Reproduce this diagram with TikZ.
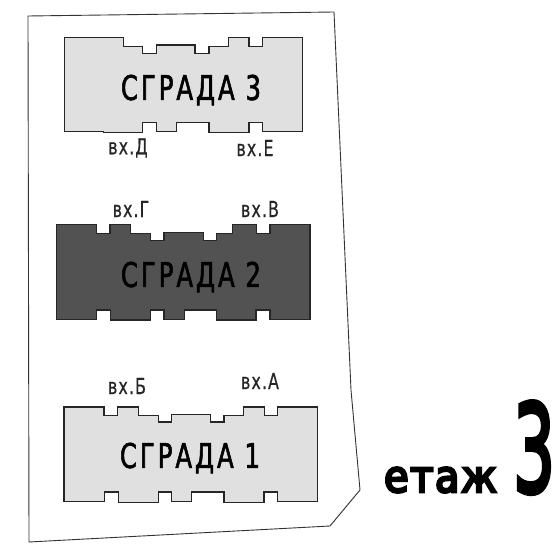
\documentclass[tikz,border=0pt]{standalone}
\usepackage{fontspec}
\setmainfont{DejaVu Sans}
\newfontfamily\bigf[FakeStretch=0.72,LetterSpace=8.5,FakeBold=1.6]{DejaVu Sans}
\newfontfamily\smallf[FakeStretch=0.72,LetterSpace=5,FakeBold=0.5]{DejaVu Sans}
\newfontfamily\etf[FakeStretch=0.9,LetterSpace=4,FakeBold=6]{DejaVu Sans}
\newfontfamily\numf[FakeBold=4]{DejaVu Sans}
\tikzset{
 bld/.style={draw=black!85,line width=1.2pt,line join=miter},
 light/.style={bld,fill=black!12},
 dark/.style={bld,fill=black!68},
 title/.style={inner sep=0pt,font=\bigf\fontsize{34}{34}\selectfont},
 entr/.style={inner sep=0pt,text=black!85,font=\smallf\fontsize{22}{22}\selectfont},
}
\begin{document}
\begin{tikzpicture}[x=1pt,y=-1pt]
\useasboundingbox (0,0) rectangle (558,556);
\draw[line width=0.9pt,draw=black!80] (28,16) coordinate (c1) -- (334,12) coordinate (c2) -- (351,390) -- (360,490) -- (330,526) -- (29,542) -- cycle;
\begin{scope}[shift={(40,20)},x=0.3333pt,y=-0.3333pt]
\draw[light] (73,53)-|(250,80)-|(308,100)-|(350,75)-|(465,100)-|(507,80)-|(565,53)-|(627,80)-|(667,53)-|(787,335)-|(667,308)-|(627,338)-|(507,308)-|(410,335)-|(350,308)-|(308,338)-|(190,335)-|(73,53)--cycle;
\end{scope}
\begin{scope}[shift={(40,190)},x=0.3333pt,y=-0.3333pt]
\draw[dark] (50,104)-|(170,130)-|(210,104)-|(272,130)-|(332,152)-|(372,128)-|(490,152)-|(530,130)-|(577,104)-|(650,130)-|(690,104)-|(810,388)-|(690,360)-|(648,390)-|(530,360)-|(433,388)-|(372,360)-|(332,390)-|(212,360)-|(170,388)-|(50,104)--cycle;
\end{scope}
\begin{scope}[shift={(40,360)},x=0.3333pt,y=-0.3333pt]
\draw[light] (72,141)-|(192,167)-|(233,141)-|(296,167)-|(355,186)-|(395,163)-|(512,186)-|(552,167)-|(610,141)-|(673,167)-|(712,141)-|(833,425)-|(712,396)-|(672,428)-|(552,396)-|(455,425)-|(395,396)-|(355,428)-|(235,396)-|(193,425)-|(72,141)--cycle;
\end{scope}
\node[title] (t3) at (191,90) {СГРАДА 3};
\node[title] (t2) at (191,277) {СГРАДА 2};
\node[title] (t1) at (190,458) {СГРАДА 1};
\node[entr] (d) at (128,148) {вх.Д};
\node[entr] (e) at (255,148) {вх.Е};
\node[entr] (g) at (131,209) {вх.Г};
\node[entr] (v) at (260,209) {вх.В};
\node[entr] (b) at (127,386) {вх.Б};
\node[entr] (a) at (260,381) {вх.А};
\node[inner sep=0pt,anchor=base west,font=\etf\fontsize{44}{44}\selectfont] (et) at (384,492) {етаж};
\node[inner sep=0pt,anchor=base west,xscale=0.54,transform shape,font=\numf\fontsize{122}{122}\selectfont] (n) at (513,492) {3};
\end{tikzpicture}
\end{document}
